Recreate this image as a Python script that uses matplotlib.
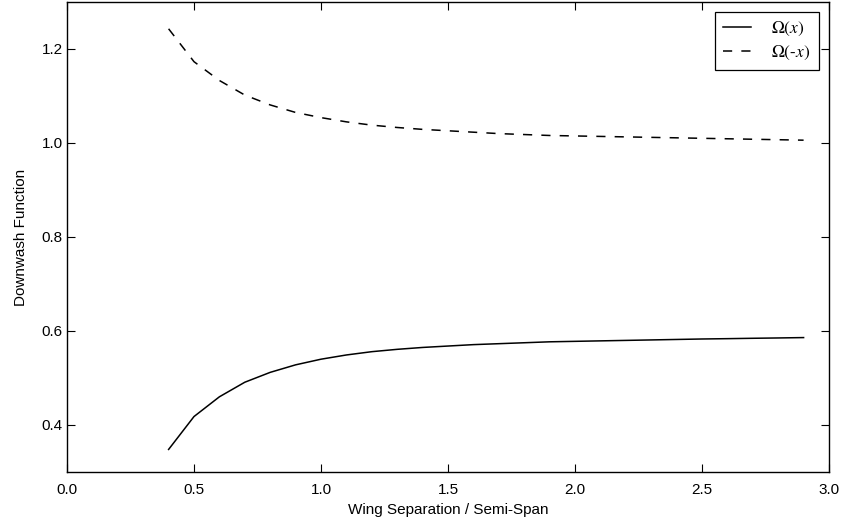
import numpy as np
import matplotlib
matplotlib.use('Agg')
import matplotlib.pyplot as plt

# Wing separation / semi-span
sep = [0.4, 0.5, 0.6, 0.7, 0.8, 0.9, 1.0, 1.1, 1.2, 1.3, 1.4, 1.5, 1.6,
       1.7, 1.8, 1.9, 2.0, 2.1, 2.2, 2.3, 2.4, 2.5, 2.6, 2.7, 2.8, 2.9]

# Downwash function Omega(x)
omega_pos = [0.348, 0.418, 0.460, 0.491, 0.512, 0.528, 0.540, 0.549, 0.556,
             0.561, 0.565, 0.568, 0.571, 0.573, 0.575, 0.577, 0.578, 0.579,
             0.580, 0.581, 0.582, 0.583, 0.5837, 0.5845, 0.5852, 0.586]

# Downwash function Omega(-x)
omega_neg = [1.243, 1.173, 1.133, 1.102, 1.081, 1.065, 1.054, 1.045, 1.038,
             1.033, 1.029, 1.026, 1.023, 1.020, 1.018, 1.016, 1.015, 1.014,
             1.013, 1.012, 1.011, 1.010, 1.009, 1.008, 1.007, 1.006]

plt.rcParams['font.family'] = ['Liberation Sans', 'DejaVu Sans']
plt.rcParams['mathtext.fontset'] = 'stix'

fig = plt.figure(figsize=(8.44, 5.2), dpi=100)
ax = fig.add_axes([67 / 844, 48 / 520, 762 / 844, 470 / 520])

ax.plot(sep, omega_pos, color='black', linewidth=1.1, label=r'$\Omega(x)$')
ax.plot(sep, omega_neg, color='black', linewidth=1.1, linestyle=(0, (6, 6)),
        label=r'$\Omega$(-$x$)')

ax.set_xlim(0.0, 3.0)
ax.set_ylim(0.3, 1.3)
ax.set_xticks([0.0, 0.5, 1.0, 1.5, 2.0, 2.5, 3.0])
ax.set_yticks([0.4, 0.6, 0.8, 1.0, 1.2])
ax.tick_params(direction='in', top=True, right=True, length=6, width=0.8,
               labelsize=11)
ax.tick_params(axis='x', pad=8)
ax.tick_params(axis='y', pad=3)
for s in ax.spines.values():
    s.set_linewidth(1.0)

ax.set_xlabel('Wing Separation / Semi-Span', fontsize=11, labelpad=4)
ax.set_ylabel('Downwash Function', fontsize=11, labelpad=10)

leg = ax.legend(loc='upper right', fancybox=False, framealpha=1,
                edgecolor='black', prop={'family': 'STIXGeneral', 'size': 12.5},
                handlelength=1.6, handletextpad=1.2, borderpad=0.45,
                labelspacing=0.3, borderaxespad=0.6)
leg.get_frame().set_linewidth(0.9)

fig.savefig('out.png', dpi=100, facecolor='white')
